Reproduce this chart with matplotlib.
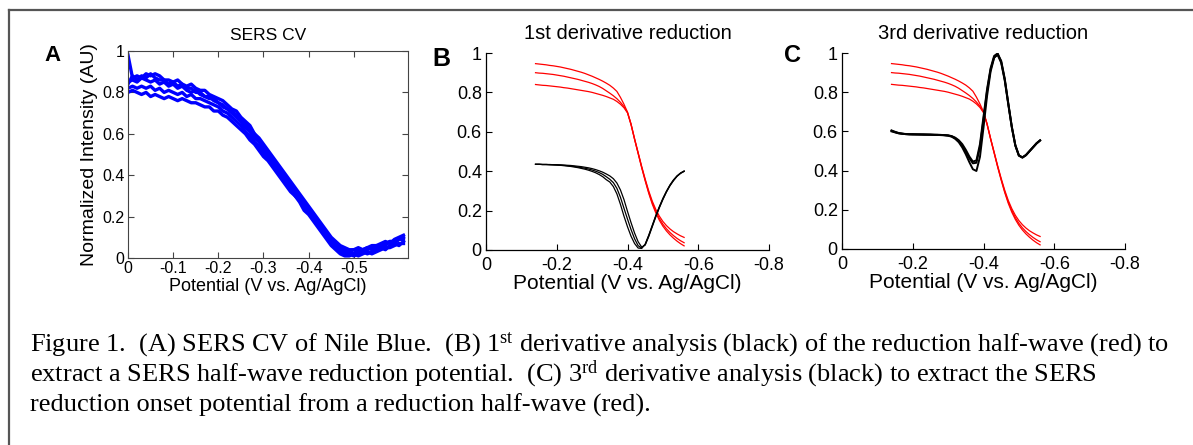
import numpy as np
import matplotlib
matplotlib.use('Agg')
import matplotlib.pyplot as plt
from matplotlib.lines import Line2D

plt.rcParams['font.family'] = ['Liberation Sans', 'DejaVu Sans']
plt.rcParams['mathtext.fontset'] = 'custom'
plt.rcParams['mathtext.rm'] = 'Liberation Serif'
plt.rcParams['mathtext.default'] = 'rm'

# ---------------- data ----------------
# Panel A: SERS CV sweeps, potential 0 ... -0.61 V in 0.01 V steps
sweep_1 = [0.98, 0.87, 0.88, 0.87, 0.89, 0.88, 0.89, 0.88, 0.86, 0.86,
           0.85, 0.86, 0.84, 0.83, 0.84, 0.82, 0.81, 0.81, 0.79, 0.78,
           0.77, 0.76, 0.74, 0.72, 0.71, 0.68, 0.66, 0.64, 0.60, 0.58,
           0.55, 0.52, 0.49, 0.46, 0.43, 0.40, 0.37, 0.34, 0.31, 0.28,
           0.25, 0.22, 0.19, 0.16, 0.13, 0.10, 0.08, 0.06, 0.05, 0.04,
           0.04, 0.05, 0.04, 0.05, 0.06, 0.06, 0.07, 0.08, 0.07, 0.09,
           0.10, 0.11]
sweep_2 = [0.85, 0.86, 0.85, 0.87, 0.86, 0.85, 0.86, 0.84, 0.85, 0.83,
           0.84, 0.82, 0.83, 0.81, 0.80, 0.81, 0.79, 0.78, 0.78, 0.76,
           0.75, 0.73, 0.72, 0.70, 0.68, 0.66, 0.63, 0.61, 0.58, 0.56,
           0.53, 0.50, 0.47, 0.44, 0.41, 0.38, 0.36, 0.32, 0.30, 0.26,
           0.24, 0.20, 0.18, 0.14, 0.12, 0.09, 0.07, 0.05, 0.04, 0.03,
           0.04, 0.03, 0.04, 0.05, 0.04, 0.06, 0.05, 0.07, 0.08, 0.07,
           0.09, 0.10]
sweep_3 = [0.82, 0.83, 0.82, 0.83, 0.82, 0.83, 0.81, 0.82, 0.80, 0.81,
           0.80, 0.79, 0.80, 0.78, 0.79, 0.77, 0.77, 0.76, 0.75, 0.74,
           0.73, 0.71, 0.70, 0.68, 0.66, 0.64, 0.61, 0.59, 0.56, 0.54,
           0.51, 0.48, 0.45, 0.42, 0.40, 0.36, 0.34, 0.30, 0.28, 0.25,
           0.22, 0.19, 0.16, 0.13, 0.10, 0.07, 0.05, 0.03, 0.02, 0.02,
           0.01, 0.02, 0.03, 0.02, 0.03, 0.04, 0.05, 0.04, 0.06, 0.07,
           0.06, 0.08]
sweep_4 = [0.80, 0.81, 0.80, 0.79, 0.80, 0.78, 0.79, 0.78, 0.77, 0.78,
           0.77, 0.76, 0.77, 0.76, 0.75, 0.75, 0.74, 0.73, 0.73, 0.71,
           0.71, 0.69, 0.68, 0.66, 0.64, 0.62, 0.60, 0.57, 0.55, 0.52,
           0.49, 0.47, 0.44, 0.41, 0.38, 0.35, 0.32, 0.30, 0.27, 0.23,
           0.21, 0.18, 0.15, 0.12, 0.09, 0.06, 0.04, 0.02, 0.01, 0.01,
           0.02, 0.01, 0.02, 0.03, 0.02, 0.03, 0.04, 0.05, 0.05, 0.06,
           0.07, 0.07]
sweep_5 = [0.84, 0.88, 0.86, 0.88, 0.87, 0.89, 0.87, 0.86, 0.86, 0.84,
           0.85, 0.83, 0.84, 0.82, 0.82, 0.80, 0.80, 0.78, 0.77, 0.77,
           0.75, 0.74, 0.72, 0.71, 0.69, 0.67, 0.65, 0.62, 0.60, 0.57,
           0.54, 0.51, 0.48, 0.45, 0.42, 0.39, 0.35, 0.33, 0.29, 0.27,
           0.23, 0.21, 0.17, 0.15, 0.11, 0.08, 0.06, 0.04, 0.03, 0.03,
           0.02, 0.04, 0.03, 0.04, 0.05, 0.05, 0.06, 0.06, 0.08, 0.08,
           0.09, 0.09]
potential_A = np.round(-0.01 * np.arange(len(sweep_1)), 2)

# Panels B and C: potential -0.14 ... -0.56 V in 0.01 V steps
half_wave_1 = [0.946, 0.944, 0.942, 0.940, 0.937, 0.935, 0.932, 0.929, 0.925, 0.921,
               0.917, 0.912, 0.907, 0.902, 0.896, 0.889, 0.882, 0.874, 0.866, 0.857,
               0.847, 0.836, 0.822, 0.805, 0.775, 0.740, 0.700,
               0.640, 0.565, 0.495, 0.425, 0.360, 0.300, 0.248, 0.206, 0.172, 0.145,
               0.124, 0.107, 0.093, 0.082, 0.072, 0.064]
half_wave_2 = [0.900, 0.898, 0.897, 0.895, 0.893, 0.891, 0.888, 0.885, 0.882, 0.878,
               0.874, 0.870, 0.866, 0.861, 0.856, 0.851, 0.845, 0.838, 0.830, 0.820,
               0.808, 0.796, 0.783, 0.768, 0.750, 0.728, 0.698,
               0.638, 0.563, 0.492, 0.421, 0.355, 0.293, 0.240, 0.196, 0.160, 0.131,
               0.108, 0.089, 0.073, 0.059, 0.047, 0.037]
half_wave_3 = [0.840, 0.838, 0.836, 0.835, 0.833, 0.831, 0.829, 0.827, 0.824, 0.822,
               0.819, 0.816, 0.813, 0.810, 0.807, 0.804, 0.800, 0.795, 0.790, 0.785,
               0.779, 0.772, 0.765, 0.754, 0.740, 0.722, 0.696,
               0.636, 0.561, 0.490, 0.418, 0.351, 0.288, 0.233, 0.188, 0.151, 0.121,
               0.097, 0.077, 0.060, 0.045, 0.032, 0.021]
first_deriv_1 = [0.435, 0.435, 0.434, 0.434, 0.433, 0.432, 0.431, 0.430, 0.428, 0.426,
                 0.424, 0.421, 0.418, 0.414, 0.410, 0.405, 0.399, 0.392, 0.383, 0.372,
                 0.357, 0.345, 0.322, 0.285, 0.232, 0.172, 0.118,
                 0.070, 0.033, 0.010, 0.008, 0.030, 0.075, 0.125, 0.175, 0.220, 0.262,
                 0.298, 0.330, 0.356, 0.376, 0.391, 0.401]
first_deriv_2 = [0.435, 0.435, 0.434, 0.434, 0.433, 0.433, 0.432, 0.431, 0.430, 0.428,
                 0.426, 0.424, 0.421, 0.418, 0.415, 0.411, 0.406, 0.400, 0.393, 0.384,
                 0.372, 0.359, 0.342, 0.313, 0.268, 0.212, 0.157,
                 0.104, 0.057, 0.022, 0.010, 0.028, 0.072, 0.122, 0.172, 0.217, 0.259,
                 0.296, 0.328, 0.354, 0.375, 0.390, 0.400]
first_deriv_3 = [0.435, 0.435, 0.434, 0.434, 0.434, 0.433, 0.433, 0.432, 0.431, 0.430,
                 0.429, 0.427, 0.425, 0.423, 0.420, 0.417, 0.413, 0.408, 0.402, 0.395,
                 0.386, 0.376, 0.362, 0.340, 0.305, 0.256, 0.196,
                 0.139, 0.086, 0.042, 0.015, 0.025, 0.068, 0.118, 0.168, 0.214, 0.256,
                 0.294, 0.326, 0.352, 0.374, 0.389, 0.399]
third_deriv_1 = [0.605, 0.598, 0.592, 0.588, 0.586, 0.585, 0.584, 0.585, 0.584, 0.583,
                 0.583, 0.583, 0.582, 0.582, 0.581, 0.580, 0.578, 0.573, 0.562, 0.545,
                 0.518, 0.483, 0.443, 0.407, 0.398, 0.470, 0.620,
                 0.780, 0.905, 0.975, 0.995, 0.960, 0.870, 0.745, 0.625, 0.530, 0.478,
                 0.468, 0.480, 0.500, 0.520, 0.540, 0.555]
third_deriv_2 = [0.600, 0.595, 0.590, 0.588, 0.587, 0.586, 0.585, 0.584, 0.585, 0.584,
                 0.584, 0.583, 0.583, 0.582, 0.582, 0.581, 0.579, 0.575, 0.566, 0.551,
                 0.528, 0.497, 0.463, 0.437, 0.440, 0.520, 0.660,
                 0.805, 0.915, 0.978, 0.990, 0.950, 0.860, 0.738, 0.620, 0.527, 0.476,
                 0.467, 0.479, 0.499, 0.519, 0.539, 0.554]
third_deriv_3 = [0.603, 0.596, 0.591, 0.589, 0.586, 0.585, 0.586, 0.585, 0.584, 0.585,
                 0.584, 0.584, 0.583, 0.583, 0.582, 0.581, 0.580, 0.576, 0.568, 0.555,
                 0.535, 0.506, 0.472, 0.446, 0.452, 0.535, 0.675,
                 0.815, 0.922, 0.985, 0.998, 0.955, 0.865, 0.742, 0.623, 0.529, 0.477,
                 0.466, 0.478, 0.498, 0.518, 0.538, 0.553]
potential_BC = np.round(-0.14 - 0.01 * np.arange(len(half_wave_1)), 2)

yticks = [0, 0.2, 0.4, 0.6, 0.8, 1.0]
ytick_labels = ['0', '0.2', '0.4', '0.6', '0.8', '1']
xticks_A = [0, -0.1, -0.2, -0.3, -0.4, -0.5]
xtick_labels_A = ['0', '-0.1', '-0.2', '-0.3', '-0.4', '-0.5']
xticks_BC = [0, -0.2, -0.4, -0.6, -0.8]
xtick_labels_BC = ['0', '-0.2', '-0.4', '-0.6', '-0.8']

caption_lines = [
    r"Figure 1.  (A) SERS CV of Nile Blue.  (B) $1^{\mathrm{st}}$ derivative analysis (black) of the reduction half-wave (red) to",
    r"extract a SERS half-wave reduction potential.  (C) $3^{\mathrm{rd}}$ derivative analysis (black) to extract the SERS",
    r"reduction onset potential from a reduction half-wave (red).",
]

# ---------------- figure ----------------
W, H = 1193, 445
fig = plt.figure(figsize=(W / 100, H / 100), dpi=100)

def fx(px):
    return px / W

def fy(py):
    return 1 - py / H

# border (top and left)
fig.add_artist(Line2D([fx(9), 1.0], [fy(10), fy(10)], color='#555555', lw=1.6))
fig.add_artist(Line2D([fx(9), fx(9)], [fy(10), 0.0], color='#555555', lw=1.6))

# Panel A
axA = fig.add_axes([fx(128), fy(258), fx(408) - fx(128), fy(51) - fy(258)])
for s in (sweep_1, sweep_2, sweep_3, sweep_4, sweep_5):
    axA.plot(potential_A, s, color='#0000FF', lw=2.4, solid_joinstyle='round')
axA.set_xlim(0, -0.62)
axA.set_ylim(0, 1)
axA.set_xticks(xticks_A)
axA.set_xticklabels(xtick_labels_A)
axA.set_yticks(yticks)
axA.set_yticklabels(ytick_labels)
axA.tick_params(direction='in', length=4, width=0.8, top=True, right=True,
                labelsize=11.5, pad=2.5, color='#444444')
for sp in axA.spines.values():
    sp.set_color('#444444')
    sp.set_linewidth(0.8)
axA.set_xlabel('Potential (V vs. Ag/AgCl)', fontsize=13, labelpad=1)
axA.set_ylabel('Normalized Intensity (AU)', fontsize=14, labelpad=3)
axA.set_title('SERS CV', fontsize=12.5, pad=8)

def style_bc(ax):
    ax.set_xlim(0, -0.8)
    ax.set_ylim(0, 1)
    ax.set_xticks(xticks_BC)
    ax.set_xticklabels(xtick_labels_BC)
    ax.set_yticks(yticks)
    ax.set_yticklabels(ytick_labels)
    ax.spines['top'].set_visible(False)
    ax.spines['right'].set_visible(False)
    for sp in ('left', 'bottom'):
        ax.spines[sp].set_linewidth(0.9)
    ax.tick_params(direction='in', length=4, width=0.8, labelsize=13)
    ax.tick_params(axis='x', pad=5)
    ax.tick_params(axis='y', pad=3)
    ax.set_xlabel('Potential (V vs. Ag/AgCl)', fontsize=15, labelpad=0)

# Panel B
axB = fig.add_axes([fx(486), fy(250), fx(769) - fx(486), fy(53) - fy(250)])
for r in (half_wave_1, half_wave_2, half_wave_3):
    axB.plot(potential_BC, r, color='#FF0000', lw=0.9)
for b in (first_deriv_1, first_deriv_2, first_deriv_3):
    axB.plot(potential_BC, b, color='black', lw=0.9)
style_bc(axB)
axB.set_title('1st derivative reduction', fontsize=14.5, pad=10)

# Panel C
axC = fig.add_axes([fx(842), fy(249), fx(1125) - fx(842), fy(53) - fy(249)])
for r in (half_wave_1, half_wave_2, half_wave_3):
    axC.plot(potential_BC, r, color='#FF0000', lw=0.9)
for b in (third_deriv_1, third_deriv_2, third_deriv_3):
    axC.plot(potential_BC, b, color='black', lw=1.4)
style_bc(axC)
axC.set_title('3rd derivative reduction', fontsize=14.5, pad=10)

# Panel letters
fig.text(fx(44), fy(61), 'A', fontsize=16, fontweight='bold', va='baseline')
fig.text(fx(432), fy(66), 'B', fontsize=18, fontweight='bold', va='baseline')
fig.text(fx(784), fy(62), 'C', fontsize=17, fontweight='bold', va='baseline')

# Caption
for i, line in enumerate(caption_lines):
    fig.text(fx(30), fy(351 + 30.5 * i), line, fontsize=19,
             family=['Liberation Serif', 'DejaVu Serif'], va='baseline')

fig.savefig('out.png', dpi=100)
